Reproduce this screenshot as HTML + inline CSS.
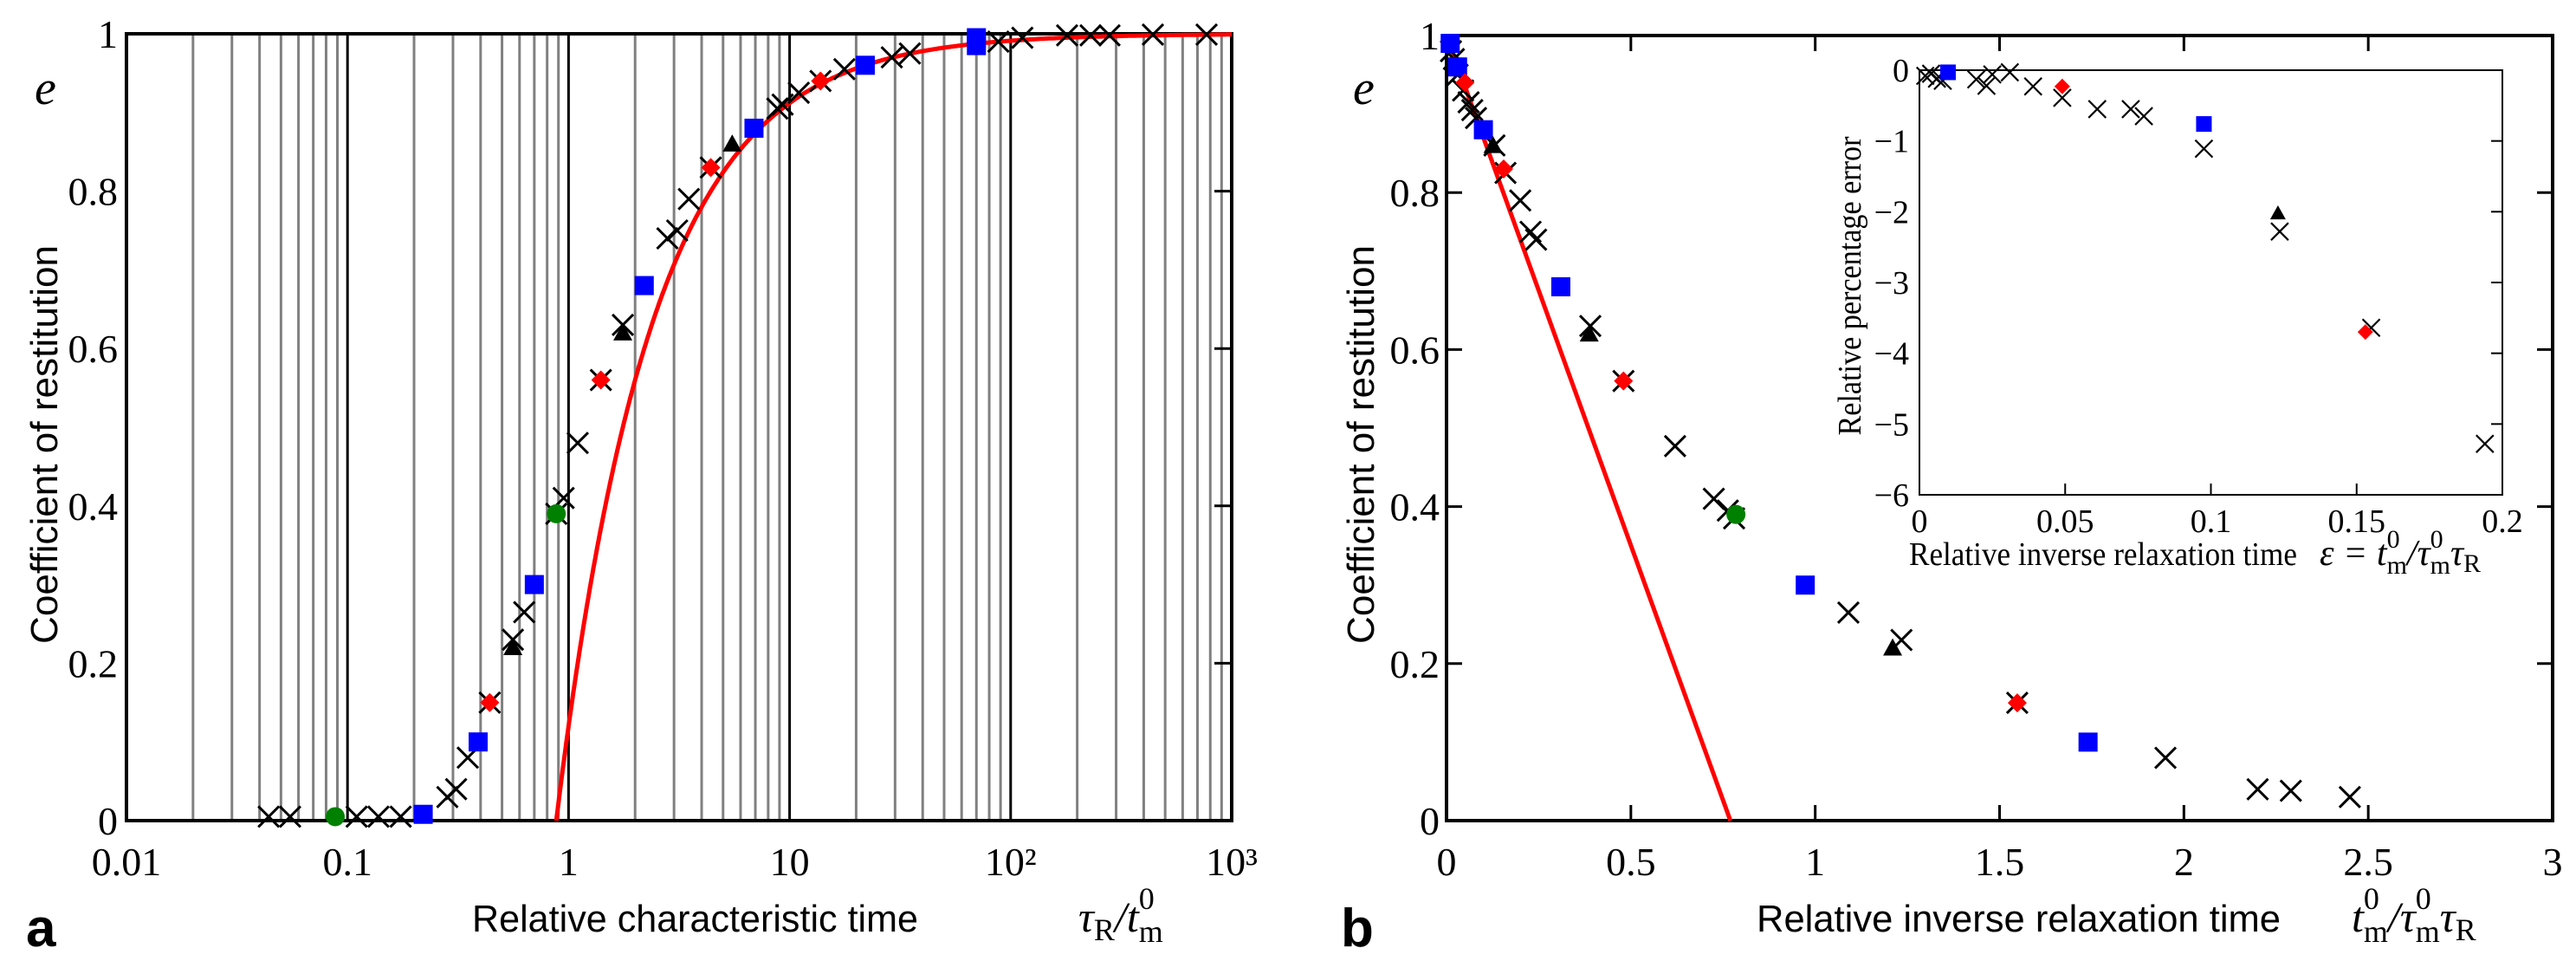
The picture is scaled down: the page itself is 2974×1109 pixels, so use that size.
<!DOCTYPE html>
<html><head><meta charset="utf-8">
<style>
html,body{margin:0;padding:0;background:#fff;}
svg{display:block;}
.tk{font-family:"Liberation Serif",serif;font-size:46px;fill:#000;}
.tki{font-family:"Liberation Serif",serif;font-size:38px;fill:#000;}
.lab{font-family:"Liberation Sans",sans-serif;font-size:44px;fill:#000;}
.math{font-family:"Liberation Serif",serif;font-style:italic;font-size:50px;fill:#000;}
.sub{font-family:"Liberation Serif",serif;font-style:normal;font-size:36px;}
</style></head>
<body>
<svg id="fig" width="2974" height="1109" viewBox="0 0 2974 1109" xmlns="http://www.w3.org/2000/svg">
<g id="pa"></g>
<g id="pb"></g>
<g id="pi"></g>

<text class="lab" x="545" y="1075" textLength="515" lengthAdjust="spacingAndGlyphs">Relative characteristic time</text>
<text class="math" x="1245" y="1075">τ<tspan class="sub" dy="10">R</tspan><tspan dy="-10">/</tspan>t<tspan class="sub" dy="-26">0</tspan><tspan class="sub" dx="-18" dy="38">m</tspan></text>
<text class="lab" transform="translate(66,513) rotate(-90)" text-anchor="middle" textLength="460" lengthAdjust="spacingAndGlyphs">Coefficient of restitution</text>
<text class="math" x="40" y="120" style="font-size:56px">e</text>
<text x="30" y="1092" style="font-family:'Liberation Sans',sans-serif;font-weight:bold;font-size:62px">a</text>

<text class="lab" x="2028" y="1075" textLength="605" lengthAdjust="spacingAndGlyphs">Relative inverse relaxation time</text>
<text class="math" x="2715" y="1075">t<tspan class="sub" dy="-26">0</tspan><tspan class="sub" dx="-18" dy="38">m</tspan><tspan dy="-12">/τ</tspan><tspan class="sub" dy="-26">0</tspan><tspan class="sub" dx="-18" dy="38">m</tspan><tspan dy="-12">τ</tspan><tspan class="sub" dy="10">R</tspan></text>
<text class="lab" transform="translate(1586,513) rotate(-90)" text-anchor="middle" textLength="460" lengthAdjust="spacingAndGlyphs">Coefficient of restitution</text>
<text class="math" x="1562" y="120" style="font-size:56px">e</text>
<text x="1548" y="1092" style="font-family:'Liberation Sans',sans-serif;font-weight:bold;font-size:62px">b</text>

<text class="tki" x="2204" y="652" textLength="448" lengthAdjust="spacingAndGlyphs">Relative inverse relaxation time</text>
<text class="math" x="2678" y="652" style="font-size:42px">ε = t<tspan class="sub" style="font-size:30px" dy="-20">0</tspan><tspan class="sub" style="font-size:30px" dx="-15" dy="30">m</tspan><tspan dy="-10">/τ</tspan><tspan class="sub" style="font-size:30px" dy="-20">0</tspan><tspan class="sub" style="font-size:30px" dx="-15" dy="30">m</tspan><tspan dy="-10">τ</tspan><tspan class="sub" style="font-size:30px" dy="8">R</tspan></text>
<text class="tki" transform="translate(2148,330) rotate(-90)" text-anchor="middle" textLength="345" lengthAdjust="spacingAndGlyphs">Relative percentage error</text>
</svg>
<script>
// ---------- Panel a data (log x) ----------
const aCrossX = [0.044,0.055,0.11,0.138,0.174,0.283,0.31,0.35,0.44,0.56,0.63,0.88,0.95,1.1,1.4,1.76,2.8,3.1,3.5,4.4,8.8,9.3,11,13.8,17.7,29,35,88,113,180,230,280,440,770];
const aCrossE = [0.005,0.005,0.005,0.005,0.005,0.03,0.04,0.08,0.15,0.23,0.265,0.39,0.41,0.48,0.56,0.63,0.74,0.75,0.79,0.83,0.905,0.91,0.925,0.94,0.955,0.97,0.975,0.99,0.995,0.998,0.998,0.998,0.999,0.999];
const aBlueX = [0.22,0.39,0.70,2.2,6.9,22,70,70];
const aBlueE = [0.008,0.10,0.30,0.68,0.88,0.96,0.985,0.995];
const aRedX = [0.44,1.4,4.4,13.8];
const aRedE = [0.15,0.56,0.83,0.94];
const aTriX = [0.56,1.76,5.5];
const aTriE = [0.22,0.62,0.86];
const aGreenX = [0.088,0.88];
const aGreenE = [0.005,0.39];
const aModelT0 = [0.88]; // e = 1 - T0/tau
const aXTicks = [0.01,0.1,1,10,100,1000];
const aXTickLabels = ["0.01","0.1","1","10","10²","10³"];
const yTicks = [0,0.2,0.4,0.6,0.8,1];
const yTickLabels = ["0","0.2","0.4","0.6","0.8","1"];

// ---------- Panel b data ----------
const bCrossX = [0.012,0.02,0.03,0.045,0.06,0.07,0.08,0.13,0.16,0.2,0.228,0.243,0.39,0.48,0.62,0.725,0.763,0.78,1.09,1.234,1.548,1.95,2.2,2.29,2.45];
const bCrossE = [0.98,0.97,0.95,0.93,0.915,0.905,0.895,0.86,0.825,0.79,0.75,0.74,0.63,0.56,0.477,0.41,0.395,0.385,0.265,0.23,0.15,0.08,0.04,0.038,0.03];
const bBlueX = [0.01,0.03,0.1,0.31,0.973,1.74];
const bBlueE = [0.99,0.96,0.88,0.68,0.30,0.10];
const bRedX = [0.05,0.155,0.48,1.548];
const bRedE = [0.94,0.83,0.56,0.15];
const bTriX = [0.126,0.387,1.21];
const bTriE = [0.86,0.62,0.22];
const bGreenX = [0.785];
const bGreenE = [0.39];
const bLineX = [0,0.77];
const bLineE = [1,0];
const bXTicks = [0,0.5,1,1.5,2,2.5,3];
const bXTickLabels = ["0","0.5","1","1.5","2","2.5","3"];

// ---------- Inset data ----------
const iCrossX = [0.002,0.004,0.006,0.008,0.0195,0.023,0.025,0.031,0.039,0.049,0.061,0.0725,0.077,0.0976,0.1236,0.155,0.194];
const iCrossY = [-0.08,-0.05,-0.12,-0.15,-0.13,-0.22,-0.06,-0.03,-0.23,-0.39,-0.55,-0.55,-0.65,-1.11,-2.28,-3.64,-5.28];
const iBlueX = [0.0098,0.0976];
const iBlueY = [-0.03,-0.76];
const iRedX = [0.049,0.153];
const iRedY = [-0.23,-3.7];
const iTriX = [0.123];
const iTriY = [-2.02];
const iXTicks = [0,0.05,0.1,0.15,0.2];
const iXTickLabels = ["0","0.05","0.1","0.15","0.2"];
const iYTicks = [0,-1,-2,-3,-4,-5,-6];
const iYTickLabels = ["0","−1","−2","−3","−4","−5","−6"];

const NS="http://www.w3.org/2000/svg";
function mk(parent,tag,attrs){const e=document.createElementNS(NS,tag);for(const k in attrs)e.setAttribute(k,attrs[k]);parent.appendChild(e);return e;}

const A={l:146,r:1422,t:39,b:947};
const ax=v=>A.l+(Math.log10(v)+2)/5*(A.r-A.l);
const ay=v=>A.b-v*(A.b-A.t);
const B={l:1670,r:2947,t:41,b:947};
const bx=v=>B.l+v/3*(B.r-B.l);
const by=v=>B.b-v*(B.b-B.t);
const I={l:2216,r:2889,t:81,b:571};
const ix=v=>I.l+v/0.2*(I.r-I.l);
const iy=v=>I.t+(-v)/6*(I.b-I.t);

function cross(g,x,y,s,w,name){const p=mk(g,'path',{d:`M${x-s},${y-s}L${x+s},${y+s}M${x-s},${y+s}L${x+s},${y-s}`,stroke:'#000','stroke-width':w,fill:'none'});

}
function square(g,x,y,s,name){const p=mk(g,'rect',{x:x-s,y:y-s,width:2*s,height:2*s,fill:'#0000ff'});

}
function diamond(g,x,y,s,name){const p=mk(g,'path',{d:`M${x},${y-s}L${x+s},${y}L${x},${y+s}L${x-s},${y}Z`,fill:'#ff0000'});

}
function tri(g,x,y,s,name){const p=mk(g,'path',{d:`M${x},${y-s}L${x+s},${y+s*0.8}L${x-s},${y+s*0.8}Z`,fill:'#000'});

}
function circ(g,x,y,r,name){const p=mk(g,'circle',{cx:x,cy:y,r:r,fill:'#008000'});

}
function txt(g,cls,x,y,anchor,s,name){const t=mk(g,'text',{class:cls,x:x,y:y,'text-anchor':anchor});t.textContent=s;

return t;}

// ---------- Panel a ----------
const pa=document.getElementById('pa');
for(let d=-2;d<3;d++){for(let m=2;m<=9;m++){const v=m*Math.pow(10,d);const l=mk(pa,'line',{x1:ax(v),x2:ax(v),y1:A.t,y2:A.b,stroke:'#808080','stroke-width':3});

}}
for(const v of aXTicks.slice(1,-1)){const l=mk(pa,'line',{x1:ax(v),x2:ax(v),y1:A.t,y2:A.b,stroke:'#000','stroke-width':3});

}
for(const v of yTicks){const l=mk(pa,'line',{x1:A.r-20,x2:A.r,y1:ay(v),y2:ay(v),stroke:'#000','stroke-width':3});

}
{const f=mk(pa,'rect',{x:A.l,y:A.t,width:A.r-A.l,height:A.b-A.t,fill:'none',stroke:'#000','stroke-width':4});

}
aXTicks.forEach((v,i)=>{txt(pa,'tk',ax(v),1010,'middle',aXTickLabels[i],'x-tick-label-a');});
yTicks.forEach((v,i)=>{txt(pa,'tk',136,ay(v)+16,'end',yTickLabels[i],'y-tick-label-a');});
{let d='';const t0=aModelT0[0];for(let k=0;k<=400;k++){const lv=Math.log10(t0)+k/400*(3-Math.log10(t0));const v=Math.pow(10,lv);const e=1-t0/v;d+=(k?'L':'M')+ax(v).toFixed(1)+','+ay(e).toFixed(1);}
const p=mk(pa,'path',{d:d,stroke:'#ff0000','stroke-width':5,fill:'none'});

}
aCrossX.forEach((v,i)=>cross(pa,ax(v),ay(aCrossE[i]),12,3,'cross-point-a'));
aBlueX.forEach((v,i)=>square(pa,ax(v),ay(aBlueE[i]),11,'square-point-a'));
aRedX.forEach((v,i)=>diamond(pa,ax(v),ay(aRedE[i]),11,'diamond-point-a'));
aTriX.forEach((v,i)=>tri(pa,ax(v),ay(aTriE[i]),11,'triangle-point-a'));
aGreenX.forEach((v,i)=>circ(pa,ax(v),ay(aGreenE[i]),11,'circle-point-a'));

// ---------- Panel b ----------
const pb=document.getElementById('pb');
{const f=mk(pb,'rect',{x:B.l,y:B.t,width:B.r-B.l,height:B.b-B.t,fill:'none',stroke:'#000','stroke-width':4});

}
bXTicks.forEach((v,i)=>{
 const l1=mk(pb,'line',{x1:bx(v),x2:bx(v),y1:B.t,y2:B.t+18,stroke:'#000','stroke-width':3});
 
 
 const l2=mk(pb,'line',{x1:bx(v),x2:bx(v),y1:B.b,y2:B.b-18,stroke:'#000','stroke-width':3});
 
 
 txt(pb,'tk',bx(v),1010,'middle',bXTickLabels[i],'x-tick-label-b');});
yTicks.forEach((v,i)=>{
 const l1=mk(pb,'line',{x1:B.l,x2:B.l+18,y1:by(v),y2:by(v),stroke:'#000','stroke-width':3});
 
 
 const l2=mk(pb,'line',{x1:B.r-18,x2:B.r,y1:by(v),y2:by(v),stroke:'#000','stroke-width':3});
 
 
 txt(pb,'tk',1662,by(v)+16,'end',yTickLabels[i],'y-tick-label-b');});
{const p=mk(pb,'line',{x1:bx(bLineX[0]),y1:by(bLineE[0]),x2:bx(bLineX[1]),y2:by(bLineE[1]),stroke:'#ff0000','stroke-width':5});

}
bCrossX.forEach((v,i)=>cross(pb,bx(v),by(bCrossE[i]),12,3,'cross-point-b'));
bBlueX.forEach((v,i)=>square(pb,bx(v),by(bBlueE[i]),11,'square-point-b'));
bRedX.forEach((v,i)=>diamond(pb,bx(v),by(bRedE[i]),11,'diamond-point-b'));
bTriX.forEach((v,i)=>tri(pb,bx(v),by(bTriE[i]),11,'triangle-point-b'));
bGreenX.forEach((v,i)=>circ(pb,bx(v),by(bGreenE[i]),11,'circle-point-b'));

// ---------- Inset ----------
const pi=document.getElementById('pi');
{const f=mk(pi,'rect',{x:I.l,y:I.t,width:I.r-I.l,height:I.b-I.t,fill:'#fff',stroke:'#000','stroke-width':2});

}
iXTicks.forEach((v,i)=>{
 const l=mk(pi,'line',{x1:ix(v),x2:ix(v),y1:I.b,y2:I.b-13,stroke:'#000','stroke-width':2});
 
 
 txt(pi,'tki',ix(v),614,'middle',iXTickLabels[i],'inset-x-tick-label');});
iYTicks.forEach((v,i)=>{
 const l=mk(pi,'line',{x1:I.r-13,x2:I.r,y1:iy(v),y2:iy(v),stroke:'#000','stroke-width':2});
 
 
 txt(pi,'tki',2204,iy(v)+13,'end',iYTickLabels[i],'inset-y-tick-label');});
iCrossX.forEach((v,i)=>cross(pi,ix(v),iy(iCrossY[i]),10,2.2,'inset-cross-point'));
iBlueX.forEach((v,i)=>square(pi,ix(v),iy(iBlueY[i]),9,'inset-square-point'));
iRedX.forEach((v,i)=>diamond(pi,ix(v),iy(iRedY[i]),9,'inset-diamond-point'));
iTriX.forEach((v,i)=>tri(pi,ix(v),iy(iTriY[i]),9,'inset-triangle-point'));
</script>
</body></html>
